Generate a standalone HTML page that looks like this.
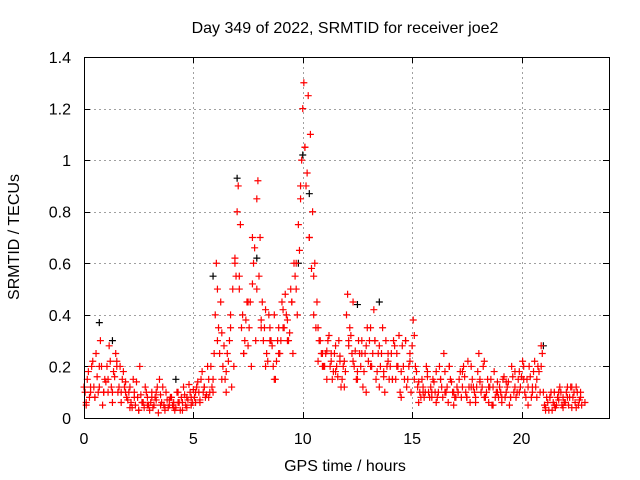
<!DOCTYPE html>
<html><head><meta charset="utf-8"><style>
body{margin:0;background:#fff}
svg{display:block;font-family:"Liberation Sans",sans-serif}
</style></head><body>
<svg id="chart" width="640" height="480">
<text x="345" y="33" text-anchor="middle" font-size="16">Day 349 of 2022, SRMTID for receiver joe2</text>
<text x="345" y="471" text-anchor="middle" font-size="16">GPS time / hours</text>
<text transform="translate(19,237) rotate(-90)" text-anchor="middle" font-size="16">SRMTID / TECUs</text>
<g id="grid"></g><g id="marks"></g>
<rect x="84.5" y="57.5" width="525" height="361" fill="none" stroke="#000"/>
</svg>
<script>
const xTicks=[0,5,10,15,20];
const yTicks=[0,0.2,0.4,0.6,0.8,1,1.2,1.4];
const yTickLabels=["0","0.2","0.4","0.6","0.8","1","1.2","1.4"];
const redA=[0.1,0.15,0.08,0.2,0.12,0.25,0.1,0.3,0.05,0.15,
0.2,0.28,0.12,0.18,0.25,0.1,0.2,0.15,0.12,0.08,
0.1,0.06,0.15,0.05,0.08,0.2,0.06,0.04,0.1,0.05,
0.06,0.04,0.08,0.12,0.15,0.06,0.05,0.1,0.04,0.08,
0.05,0.03,0.1,0.06,0.08,0.12,0.05,0.07,0.1,0.06,
0.08,0.12,0.1,0.15,0.1,0.08,0.2,0.1,0.12,0.25,
0.6,0.35,0.45,0.2,0.15,0.25,0.3,0.12,0.2,0.55,
0.9,0.75,0.4,0.3,0.45,0.35,0.2,0.6,0.3,0.92,
0.7,0.45,0.35,0.25,0.4,0.3,0.2,0.15,0.3,0.25,
0.45,0.35,0.4,0.3,0.5,0.25,0.55,0.4,0.65,1.0,
1.3,0.9,1.25,1.1,0.8,0.6,0.45,0.3,0.25,0.2,
0.25,0.3,0.2,0.15,0.25,0.2,0.3,0.12,0.2,0.18,
0.48,0.35,0.25,0.2,0.15,0.3,0.2,0.12,0.25,0.35,
0.3,0.2,0.42,0.15,0.25,0.2,0.35,0.1,0.2,0.15,
0.25,0.3,0.15,0.2,0.1,0.28,0.15,0.12,0.2,0.1,
0.38,0.2,0.12,0.1,0.15,0.08,0.2,0.1,0.12,0.15,
0.1,0.08,0.2,0.12,0.25,0.1,0.06,0.15,0.1,0.08,
0.12,0.15,0.08,0.2,0.1,0.22,0.06,0.15,0.1,0.12,
0.25,0.1,0.2,0.08,0.15,0.12,0.05,0.18,0.1,0.08,
0.1,0.15,0.08,0.12,0.05,0.2,0.1,0.08,0.15,0.12,
0.22,0.1,0.15,0.2,0.08,0.18,0.12,0.2,0.1,0.25,
0.05,0.08,0.03,0.1,0.06,0.04,0.08,0.12,0.05,0.06,
0.1,0.05,0.12,0.08,0.06,0.1,0.07,0.05];
const redAStart=0.05, redAStep=0.1;
const redC=[0.12,0.06,0.18,0.1,0.22,0.08,0.16,0.12,0.2,0.1,
0.14,0.1,0.22,0.06,0.16,0.2,0.12,0.1,0.18,0.14,
0.07,0.12,0.04,0.1,0.14,0.03,0.09,0.06,0.12,0.08,
0.03,0.1,0.05,0.07,0.02,0.09,0.12,0.04,0.07,0.05,
0.08,0.06,0.04,0.1,0.03,0.06,0.09,0.04,0.13,0.08,
0.11,0.06,0.14,0.07,0.18,0.12,0.09,0.15,0.2,0.1,
0.4,0.5,0.25,0.33,0.28,0.18,0.22,0.35,0.5,0.62,
0.8,0.55,0.35,0.25,0.38,0.28,0.45,0.52,0.66,0.85,
0.55,0.38,0.3,0.42,0.22,0.35,0.28,0.4,0.22,0.35,
0.3,0.42,0.48,0.38,0.33,0.45,0.6,0.5,0.75,0.9,
1.2,1.05,0.95,0.7,0.58,0.4,0.35,0.22,0.3,0.25,
0.2,0.26,0.32,0.22,0.18,0.28,0.16,0.24,0.15,0.22,
0.4,0.28,0.32,0.22,0.26,0.18,0.25,0.3,0.18,0.28,
0.22,0.35,0.25,0.3,0.18,0.28,0.25,0.16,0.3,0.22,
0.2,0.15,0.28,0.25,0.32,0.18,0.2,0.3,0.15,0.22,
0.28,0.32,0.18,0.14,0.08,0.12,0.1,0.16,0.08,0.1,
0.14,0.18,0.1,0.15,0.08,0.18,0.12,0.2,0.14,0.1,
0.08,0.1,0.18,0.12,0.16,0.08,0.12,0.2,0.12,0.08,
0.18,0.14,0.12,0.22,0.1,0.06,0.15,0.12,0.08,0.14,
0.12,0.08,0.16,0.1,0.14,0.08,0.16,0.12,0.1,0.18,
0.16,0.2,0.08,0.12,0.16,0.1,0.22,0.15,0.18,0.2,
0.1,0.04,0.06,0.08,0.03,0.1,0.05,0.07,0.1,0.08,
0.06,0.12,0.08,0.04,0.1,0.12,0.05,0.08];
const redCStart=0.0, redCStep=0.1;
const redB=[.05,.12,.08,.2,.1,.15,.1,.22,.06,.1,
.04,.08,.03,.06,.05,.08,.1,.05,.03,.07,
.04,.06,.03,.08,.05,.1,.06,.12,.08,.15,
.3,.15,.1,.4,.6,.5,.25,.45,.7,.5,
.35,.2,.3,.15,.25,.35,.3,.45,.6,.85,
1.05,.7,.55,.35,.2,.15,.25,.18,.22,.12,
.3,.45,.15,.25,.1,.2,.3,.12,.18,.25,
.15,.2,.08,.3,.25,.15,.06,.1,.18,.08,
.06,.15,.1,.2,.05,.1,.18,.08,.12,.06,
.15,.08,.12,.05,.1,.06,.14,.08,.18,.1,
.15,.05,.12,.08,.28,.03,.08,.05,.1,.04,
.08,.12,.04,.1,.06];
const redBStart=0.1, redBStep=0.2;
const blackX=[0.7,5.9,7.0,10.0,10.3,13.5,21.0,12.5,9.8,7.9,1.3,4.2];
const blackY=[0.37,0.55,0.93,1.02,0.87,0.45,0.28,0.44,0.6,0.62,0.3,0.15];
const NS="http://www.w3.org/2000/svg";
const X=v=>84+v*525/24, Y=v=>418-v*361/1.4;
const grid=document.getElementById('grid'), marks=document.getElementById('marks');
function mk(tag,attrs,parent){const e=document.createElementNS(NS,tag);for(const k in attrs)e.setAttribute(k,attrs[k]);parent.appendChild(e);return e;}
xTicks.forEach(t=>{const x=Math.round(X(t))+0.5;
 if(t>0){const g=mk('line',{x1:x,x2:x,y1:57,y2:418,stroke:'#a0a0a0','stroke-dasharray':'2,3'},grid);
 
 }
 mk('line',{x1:x,x2:x,y1:418,y2:412,stroke:'#000'},grid);mk('line',{x1:x,x2:x,y1:57,y2:63,stroke:'#000'},grid);
 const l=mk('text',{x:X(t),y:444,'text-anchor':'middle','font-size':16},grid);l.textContent=t;
 
 });
yTicks.forEach((t,i)=>{const y=Math.round(Y(t))+0.5;
 if(t>0&&t<1.4){const g=mk('line',{x1:84,x2:609,y1:y,y2:y,stroke:'#a0a0a0','stroke-dasharray':'2,3'},grid);
 
 }
 mk('line',{x1:84,x2:90,y1:y,y2:y,stroke:'#000'},grid);mk('line',{x1:603,x2:609,y1:y,y2:y,stroke:'#000'},grid);
 const l=mk('text',{x:71,y:Y(t)+6,'text-anchor':'end','font-size':16},grid);l.textContent=yTickLabels[i];
 
 });
function plus(xv,yv,color,name){const x=X(xv),y=Y(yv);
 const p=mk('path',{d:`M${x-3.5},${y}H${x+3.5}M${x},${y-3.5}V${y+3.5}`,stroke:color,'stroke-width':1.2,fill:'none'},marks);
 
 }
blackX.forEach((x,i)=>plus(x,blackY[i],'#000','black-point'));
redA.forEach((v,i)=>plus(redAStart+i*redAStep,v,'#f00','red-point'));
redC.forEach((v,i)=>plus(redCStart+i*redCStep,v,'#f00','red-point'));
redB.forEach((v,i)=>plus(redBStart+i*redBStep,v,'#f00','red-point'));
</script>
</body></html>
